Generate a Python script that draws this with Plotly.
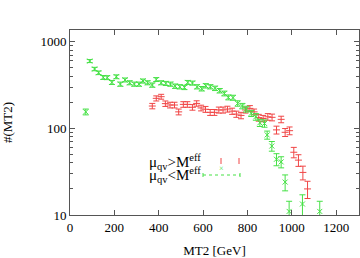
import plotly.graph_objects as go

# Green series: mu_qv < M^eff
gx = [71, 89, 111, 129, 150, 168, 189, 209, 227, 248, 269, 290, 311, 329, 350, 371, 389, 411,
      432, 453, 474, 495, 516, 531, 552, 573, 594, 612, 633, 654, 675, 696, 714, 735, 756, 777,
      795, 817, 838, 856, 877, 889, 910, 931, 952, 970, 988, 1048, 1126]
gy = [155, 598, 484, 438, 387, 385, 339, 394, 324, 362, 336, 324, 324, 352, 336, 316, 366, 336,
      330, 324, 307, 302, 297, 339, 333, 302, 287, 310, 302, 290, 272, 253, 228, 226, 194, 181,
      167, 149, 136, 116, 114, 84, 62.5, 44, 41, 24, 11, 13.4, 11]
ge = [12, 24, 22, 21, 20, 20, 18, 20, 18, 19, 18, 18, 18, 19, 18, 18, 19, 18,
      18, 18, 18, 17, 17, 18, 18, 17, 17, 18, 17, 17, 16, 16, 15, 15, 14, 13,
      13, 12, 12, 11, 11, 9, 8, 7, 6, 5, 3.4, 3.7, 3.4]

# Red series: mu_qv > M^eff
rx = [371, 389, 411, 430, 451, 471, 490, 511, 529, 552, 571, 591, 611, 632, 651, 671, 690, 710,
      731, 750, 771, 791, 811, 830, 851, 871, 892, 911, 931, 952, 970, 990, 1009, 1030, 1050, 1071]
ry = [181, 222, 232, 193, 186, 186, 155, 189, 189, 175, 194, 172, 166, 153, 153, 163, 163, 167,
      158, 146, 141, 163, 170, 155, 133, 130, 136, 134, 96, 127, 90, 94, 53, 43, 31, 20]
re = [13, 15, 15, 14, 14, 14, 12, 14, 14, 13, 14, 13, 13, 12, 12, 13, 13, 13,
      13, 12, 12, 13, 13, 12, 12, 11, 12, 12, 10, 11, 9.5, 9.7, 7.3, 6.6, 5.6, 4.5]

RED = "rgb(240,70,70)"
GREEN = "rgb(70,225,70)"
FONT = "Liberation Serif"

# plot frame target (window px): x 70..359, y 30..215
L, R, T, B = 70, 359, 30, 215
W, H = R - L, B - T


def px(xx):
    return (xx - L) / W


def py(yy):
    return (B - yy) / H


fig = go.Figure()
fig.add_trace(go.Scatter(
    x=rx, y=ry, mode="markers",
    marker=dict(symbol="line-ew", size=5, color=RED, line=dict(width=1, color=RED)),
    error_y=dict(type="data", array=re, color=RED, thickness=1, width=3),
    showlegend=False))
fig.add_trace(go.Scatter(
    x=gx, y=gy, mode="markers",
    marker=dict(symbol="x-thin", size=5, color=GREEN, line=dict(width=1, color=GREEN)),
    error_y=dict(type="data", array=ge, color=GREEN, thickness=1, width=3),
    showlegend=False))

# legend (manual)
fig.add_annotation(xref="paper", yref="paper", x=px(203), y=py(162),
                   text="μ<sub>qv</sub>>M<sup>eff</sup>", showarrow=False, xanchor="right",
                   yanchor="middle", font=dict(family=FONT, size=15, color="black"))
fig.add_annotation(xref="paper", yref="paper", x=px(203), y=py(175),
                   text="μ<sub>qv</sub><M<sup>eff</sup>", showarrow=False, xanchor="right",
                   yanchor="middle", font=dict(family=FONT, size=15, color="black"))
for xx in (221, 239):
    fig.add_shape(type="line", xref="paper", yref="paper",
                  x0=px(xx), x1=px(xx), y0=py(158), y1=py(164),
                  line=dict(color=RED, width=1))
fig.add_shape(type="line", xref="paper", yref="paper",
              x0=px(203), x1=px(240), y0=py(175), y1=py(175),
              line=dict(color=GREEN, width=1, dash="dot"))
for xx in (203, 240):
    fig.add_shape(type="line", xref="paper", yref="paper",
                  x0=px(xx), x1=px(xx), y0=py(173), y1=py(177),
                  line=dict(color=GREEN, width=1))
fig.add_annotation(xref="paper", yref="paper", x=px(221), y=py(175),
                   text="×", showarrow=False, font=dict(size=8, color=GREEN))

fig.update_layout(
    width=360, height=258,
    margin=dict(l=L, r=360 - R, t=T, b=258 - B, autoexpand=False),
    paper_bgcolor="white", plot_bgcolor="white",
    font=dict(family=FONT, size=13, color="black"),
    xaxis=dict(range=[0, 1303], tickvals=[0, 200, 400, 600, 800, 1000, 1200],
               ticks="inside", ticklen=5, tickcolor="#555", mirror="allticks",
               showline=True, linecolor="#555", linewidth=1, showgrid=False, zeroline=False,
               title=dict(text="MT2 [GeV]", font=dict(family=FONT, size=13), standoff=14)),
    yaxis=dict(type="log", range=[1, 3.135], tickvals=[10, 100, 1000],
               ticktext=["10", "100", "1000"],
               ticks="inside", ticklen=5, tickcolor="#555", mirror="allticks",
               minor=dict(ticks="inside", ticklen=3, tickcolor="#555",
                          tickvals=[20, 30, 40, 50, 60, 70, 80, 90, 200, 300, 400, 500, 600, 700, 800, 900]),
               showline=True, linecolor="#555", linewidth=1, showgrid=False, zeroline=False,
               title=dict(text="#(MT2)", font=dict(family=FONT, size=13), standoff=24)),
)

fig.write_html("out.html", config={"displayModeBar": False},
               post_script="document.body.style.margin='0';document.body.style.overflow='hidden';")
